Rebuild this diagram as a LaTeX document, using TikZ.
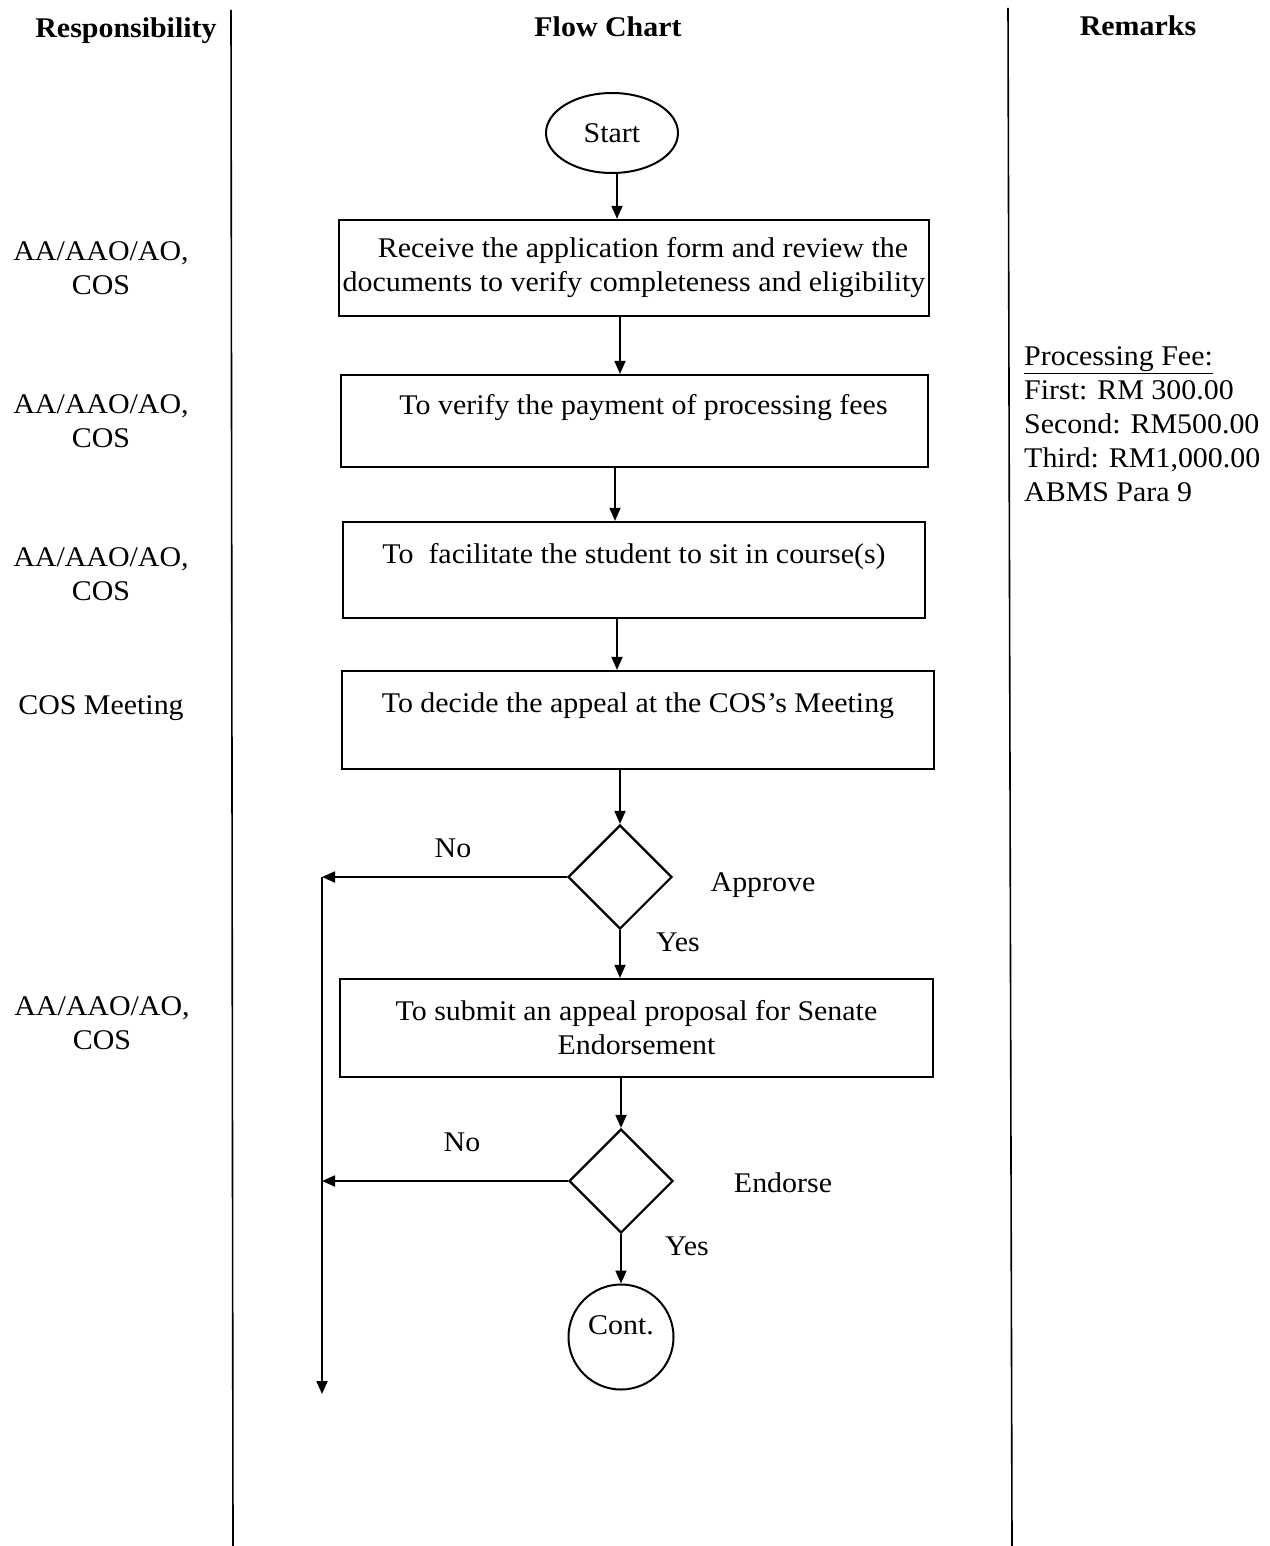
\documentclass[tikz,border=0pt]{standalone}
\usepackage{fontspec}
\setmainfont[FakeStretch=1.05]{Liberation Serif}
\usetikzlibrary{arrows.meta,shapes.geometric}
\begin{document}
\begin{tikzpicture}[x=1pt,y=-1pt,
  txt/.style={font=\fontsize{28.5}{34}\selectfont, inner sep=0pt},
  hdr/.style={font=\fontsize{28.5}{34}\selectfont\bfseries, inner sep=0pt, anchor=base},
  box/.style={draw, line width=2.2pt, rectangle, inner sep=0pt, align=center, font=\fontsize{28.5}{34}\selectfont},
  dec/.style={draw, line width=2.2pt, diamond, minimum width=104pt, minimum height=104pt, inner sep=0pt},
  arr/.style={line width=1.8pt, -{Triangle[length=13pt,width=11pt]}},
  sep/.style={line width=1.6pt}
]
\useasboundingbox[fill=white] (0,0) rectangle (1269,1546);

% column separators
\coordinate (s1t) at (231,10);
\coordinate (s1b) at (233,1546);
\coordinate (s2t) at (1008,8);
\coordinate (s2b) at (1012,1546);
\draw[sep] (s1t) -- (s1b);
\draw[sep] (s2t) -- (s2b);

% headers
\node[hdr] (h1) at (126,38) {Responsibility};
\node[hdr] (h2) at (608,37) {Flow Chart};
\node[hdr] (h3) at (1138,36) {Remarks};

% flow chart
\node[draw, line width=2pt, ellipse, minimum width=132pt, minimum height=80pt, inner sep=0pt,
      font=\fontsize{28.5}{34}\selectfont] (start) at (612,133) {Start};
\node[box, minimum width=590pt, minimum height=96pt] (b1) at (634,268)
  {\hspace*{18pt}Receive the application form and review the\\documents to verify completeness and eligibility};
\node[box, minimum width=587pt, minimum height=92pt] (b2) at (634.5,421)
  {\hspace*{18pt}To verify the payment of processing fees\\\mbox{}};
\node[box, minimum width=582pt, minimum height=96pt] (b3) at (634,570)
  {To\ \ facilitate the student to sit in course(s)\\\mbox{}};
\node[box, minimum width=592pt, minimum height=98pt] (b4) at (638,720)
  {To decide the appeal at the COS's Meeting\\\mbox{}};
\node[dec] (d1) at (620,877) {};
\node[box, minimum width=593pt, minimum height=98pt] (b5) at (636.5,1028)
  {To submit an appeal proposal for Senate\\Endorsement};
\node[dec] (d2) at (621,1181) {};
\node[draw, line width=2pt, circle, minimum size=105pt, inner sep=0pt] (cont) at (621,1337) {};
\node[txt, anchor=base] (contlbl) at (621,1334.5) {Cont.};

\coordinate (rejtop) at (322,877);
\coordinate (rejbot) at (322,1394);

\draw[arr] (start.south -| 617,0) -- (b1.north -| 617,0);
\draw[arr] (b1.south -| 620,0) -- (b2.north -| 620,0);
\draw[arr] (b2.south -| 615,0) -- (b3.north -| 615,0);
\draw[arr] (b3.south -| 617,0) -- (b4.north -| 617,0);
\draw[arr] (b4.south -| d1.north) -- (d1.north);
\draw[arr] (d1.south) -- (b5.north -| d1.south);
\draw[arr] (b5.south -| d2.north) -- (d2.north);
\draw[arr] (d2.south) -- (cont.north);
\draw[arr] (d1.west) -- (rejtop);
\draw[arr] (d2.west) -- (d2.west -| rejtop);
\draw[arr] (rejtop) -- (rejbot);

% decision labels
\node[txt, anchor=base] (no1) at (453,857.5) {No};
\node[txt, anchor=base] (ap) at (763,891) {Approve};
\node[txt, anchor=base] (yes1) at (678,951) {Yes};
\node[txt, anchor=base] (no2) at (462,1151.5) {No};
\node[txt, anchor=base] (en) at (783,1192) {Endorse};
\node[txt, anchor=base] (yes2) at (687,1255.5) {Yes};

% responsibility
\node[txt, align=center] (r1) at (101,268) {AA/AAO/AO,\\COS};
\node[txt, align=center] (r2) at (101,421) {AA/AAO/AO,\\COS};
\node[txt, align=center] (r3) at (101,574) {AA/AAO/AO,\\COS};
\node[txt, anchor=base] (r4) at (101,714) {COS Meeting};
\node[txt, align=center] (r5) at (102,1023) {AA/AAO/AO,\\COS};

% remarks
\node[txt, align=left, anchor=west] (rem) at (1024,424)
  {\underline{Processing Fee:}\\First: RM 300.00\\Second: RM500.00\\Third: RM1,000.00\\ABMS Para 9};
\end{tikzpicture}
\end{document}
